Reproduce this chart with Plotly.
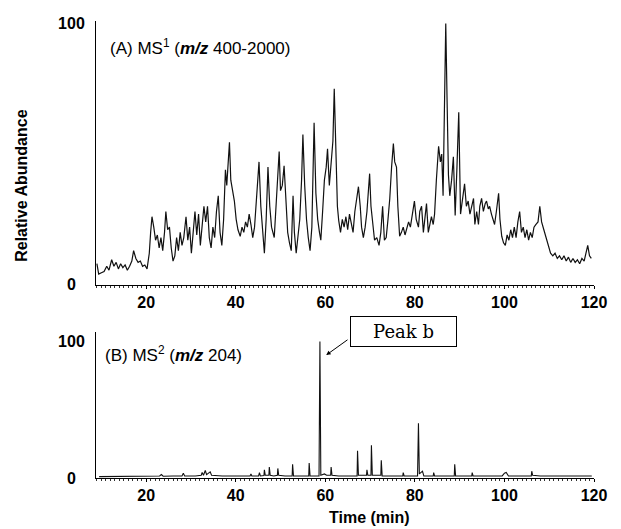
import plotly.graph_objects as go

# ---------------- data ----------------
ms1_time = [9.0, 9.4, 10.0, 10.6, 11.2, 11.7, 12.3, 12.8, 13.3, 13.8, 14.3, 14.8, 15.3, 15.8, 16.3, 16.8, 17.2, 17.7,
            18.2, 18.7, 19.2, 19.7, 20.2, 20.7, 21.0, 21.3, 21.7, 22.1, 22.5, 22.9, 23.3, 23.7, 24.1, 24.4, 24.8, 25.2,
            25.6, 26.0, 26.4, 26.8, 27.2, 27.6, 28.0, 28.4, 28.9, 29.3, 29.7, 30.1, 30.5, 30.9, 31.3, 31.7, 32.1, 32.5,
            32.9, 33.3, 33.7, 34.1, 34.5, 34.9, 35.3, 35.7, 36.1, 36.5, 36.9, 37.3, 37.7, 38.0, 38.3, 38.6, 38.9, 39.3,
            39.7, 40.1, 40.5, 41.0, 41.4, 41.8, 42.2, 42.6, 43.0, 43.4, 43.8, 44.2, 44.7, 45.2, 45.6, 46.0, 46.4, 46.8,
            47.2, 47.6, 48.0, 48.6, 49.0, 49.4, 49.7, 50.0, 50.4, 50.8, 51.2, 51.6, 52.0, 52.4, 52.8, 53.1, 53.5, 53.9,
            54.3, 54.7, 55.0, 55.4, 55.8, 56.2, 56.6, 57.0, 57.5, 57.9, 58.3, 58.7, 59.0, 59.4, 59.8, 60.2, 60.5, 60.9,
            61.3, 61.7, 62.0, 62.3, 62.7, 63.0, 63.4, 63.8, 64.2, 64.6, 65.0, 65.4, 65.8, 66.2, 66.6, 67.0, 67.4, 67.8,
            68.1, 68.5, 68.9, 69.3, 69.6, 69.9, 70.2, 70.6, 71.0, 71.5, 72.0, 72.4, 72.8, 73.2, 73.6, 74.0, 74.4, 74.8,
            75.2, 75.5, 75.9, 76.2, 76.6, 77.0, 77.4, 77.8, 78.2, 78.6, 79.0, 79.4, 79.9, 80.3, 80.8, 81.1, 81.5, 81.9,
            82.3, 82.6, 83.0, 83.4, 83.7, 84.1, 84.4, 84.8, 85.3, 85.7, 86.0, 86.3, 86.6, 86.9, 87.2, 87.5, 87.8, 88.2,
            88.6, 89.0, 89.4, 89.8, 90.2, 90.6, 91.1, 91.5, 91.9, 92.3, 92.7, 93.1, 93.4, 93.8, 94.2, 94.5, 94.9, 95.3,
            95.7, 96.0, 96.4, 96.7, 97.1, 97.5, 97.8, 98.2, 98.7, 99.0, 99.4, 99.8, 100.2, 100.6, 101.0, 101.4, 101.8,
            102.2, 102.6, 103.0, 103.4, 103.8, 104.2, 104.6, 105.0, 105.4, 105.8, 106.2, 106.6, 107.0, 107.5, 107.9,
            108.3, 108.8, 109.3, 109.8, 110.3, 110.8, 111.3, 111.8, 112.3, 112.8, 113.3, 113.8, 114.3, 114.8, 115.3,
            115.8, 116.3, 116.8, 117.3, 117.8, 118.2, 118.6, 119.0, 119.4]
ms1_abund = [8, 4, 4.5, 5, 7, 5.5, 9.5, 7, 8.5, 6, 8, 6.5, 7.5, 5.5, 7, 9, 13, 10,
             8.5, 9, 7, 7.5, 6, 12, 20, 26, 22, 17, 19, 14, 18, 13, 20, 28, 21, 22,
             14, 9, 11, 18, 13, 20, 15, 18, 26, 17, 22, 12, 20, 28, 19, 27, 15, 22,
             30, 24, 30, 18, 14, 22, 18, 28, 34, 20, 15, 25, 44, 38, 48, 54.5, 40, 36,
             32, 25, 21, 18.5, 22, 20, 24, 22, 27, 23, 18, 22, 33, 47, 30, 20, 12, 25,
             45, 30, 22, 18, 30, 40, 51, 36, 38, 45.5, 30, 20, 16, 13, 34, 20, 12, 18,
             25, 40, 57.5, 38, 25, 18, 13, 22, 62, 35, 25, 20, 17, 28, 40, 45, 52, 38,
             48, 55, 75, 50, 30, 24.5, 20, 25, 22, 26, 21, 27, 24, 20, 28, 33, 37.5, 30,
             22, 18, 22, 28, 35, 42.5, 30, 22, 17, 18, 15, 20, 30, 17, 18, 25, 33, 45,
             54, 47, 45, 30, 18.5, 20, 22, 19, 22, 24, 22, 26, 32, 25, 22, 28, 30, 20,
             26, 31, 20, 24, 26, 23, 27, 40, 53, 47, 50, 34, 60, 100, 70, 42, 34, 40,
             49, 26.5, 45, 66, 27, 32, 38.6, 30, 32, 27, 30, 33, 23, 28, 23, 30, 33, 28,
             31, 32, 29, 30, 27, 25, 23, 28, 35, 25, 18.5, 16, 15, 19, 17, 21, 18,
             22, 18, 24, 28, 20, 22, 18, 21, 17, 20, 18, 22, 23, 24, 30,
             24, 21, 18, 15, 12, 11, 12, 10, 11, 9.5, 11, 9, 10.5, 8.5, 10,
             8.5, 9.5, 8, 10, 9, 12, 15, 11, 10]

ms2_time = [9.5, 12, 15, 18, 21, 23, 23.4, 23.8, 26, 28, 28.3, 28.6, 31, 32.3, 32.5, 32.8, 33.2, 33.5, 34.3, 34.6,
            37, 40, 43.2, 43.4, 43.6, 45.1, 45.3, 45.5, 46.3, 46.4, 46.6, 47.4, 47.5, 47.7, 48.5, 49.3, 49.4, 49.6,
            51, 52.6, 52.7, 52.9, 54.5, 56.3, 56.4, 56.6, 58.6, 58.8, 59.0, 59.8, 60.3, 61.2, 61.3, 61.5, 63, 65,
            67.1, 67.2, 67.4, 69.2, 69.3, 69.5, 70.2, 70.3, 70.5, 72.4, 72.5, 72.7, 75, 77.3, 77.4, 77.6, 80.6, 80.8,
            81.0, 81.7, 82.0, 84.1, 84.2, 84.4, 86.5, 88.8, 88.9, 89.1, 92.7, 92.8, 93.0, 96, 99.5, 100.0, 100.4,
            100.9, 103, 106.0, 106.1, 106.3, 108, 112, 116, 119.5]
ms2_abund = [1, 1, 1.2, 1, 1.2, 1.5, 2.5, 1.3, 1.5, 1.5, 3.5, 1.5, 1.5, 2, 4, 2, 5.5, 2.5, 4.5, 2,
             1.5, 1.5, 1.5, 3, 1.5, 1.5, 4, 1.5, 1.8, 6, 2, 2, 8, 2, 1.5, 2, 7, 2,
             1.5, 1.5, 10, 1.5, 1.5, 1.5, 11, 1.5, 1.5, 100, 2, 3, 2, 2, 8, 2, 1.5, 1.5,
             1.5, 20, 2, 2, 6, 2, 2, 24, 2, 2, 13, 1.5, 1.5, 1.5, 4, 1.5, 1.5, 40,
             3, 5, 1.5, 1.5, 4, 1.5, 1.5, 1.5, 10, 1.5, 1.5, 4, 1.5, 1.5, 1.5, 3.5, 4,
             1.5, 1.5, 1.5, 5, 2, 1.5, 1.5, 1.5, 1.5]

x_ticks = [20, 40, 60, 80, 100, 120]
y_ticks = [0, 100]
y_ticktext = ["<b>0\u00a0\u00a0</b>", "<b>100</b>"]

# ---------------- figure ----------------
FONT = "Liberation Sans"
fig = go.Figure()
fig.add_trace(go.Scatter(x=ms1_time, y=ms1_abund, xaxis="x", yaxis="y", mode="lines",
                         line=dict(color="#111111", width=1.2), showlegend=False, hoverinfo="skip"))
fig.add_trace(go.Scatter(x=ms2_time, y=ms2_abund, xaxis="x2", yaxis="y2", mode="lines",
                         line=dict(color="#111111", width=1.1), showlegend=False, hoverinfo="skip"))

xax = dict(range=[8.8, 120], showline=True, linecolor="black", linewidth=1, showgrid=False,
           zeroline=False, ticks="outside", ticklen=3, tickcolor="black", tickwidth=1,
           tickvals=x_ticks, ticktext=["<b>%d</b>" % v for v in x_ticks],
           tickfont=dict(family=FONT, size=16, color="black"),
           minor=dict(dtick=1, tick0=0, ticks="outside", ticklen=2, tickcolor="#333", showgrid=False))
yax = dict(showline=True, linecolor="black", linewidth=1, showgrid=False, zeroline=False,
           ticks="", tickvals=y_ticks, ticktext=y_ticktext, ticklabelstandoff=7,
           tickfont=dict(family=FONT, size=16, color="black"))

# the page body has an 8px margin, so the figure is sized 8px smaller on each side
fig.update_layout(
    width=613, height=521,
    margin=dict(l=88, r=27, t=7, b=51),
    paper_bgcolor="white", plot_bgcolor="white",
    xaxis=dict(xax, anchor="y", domain=[0, 1]),
    yaxis=dict(yax, anchor="x", domain=[0.4233, 1], range=[0, 101]),
    xaxis2=dict(xax, anchor="y2", domain=[0, 1]),
    yaxis2=dict(yax, anchor="x2", domain=[0, 0.3197], range=[0, 107]),
    annotations=[
        dict(text="(A) MS<sup>1</sup> (<b><i>m/z</i></b> 400-2000)", xref="paper", yref="paper",
             x=0.024, y=0.943, xanchor="left", yanchor="middle", showarrow=False,
             font=dict(family=FONT, size=17, color="black")),
        dict(text="(B) MS<sup>2</sup> (<b><i>m/z</i></b> 204)", xref="paper", yref="paper",
             x=0.014, y=0.272, xanchor="left", yanchor="middle", showarrow=False,
             font=dict(family=FONT, size=17, color="black")),
        dict(text="<b>Relative Abundance</b>", xref="paper", yref="paper", x=-0.149, y=0.639,
             textangle=-90, showarrow=False, xanchor="center", yanchor="middle",
             font=dict(family=FONT, size=16, color="black")),
        dict(text="<b>Time (min)</b>", xref="paper", yref="paper", x=0.55, y=-0.086,
             showarrow=False, xanchor="center", yanchor="middle",
             font=dict(family=FONT, size=16, color="black")),
        dict(text="Peak b", xref="paper", yref="paper", x=0.6175, y=0.3207,
             xanchor="center", yanchor="middle", showarrow=False, width=103, height=27,
             bordercolor="black", borderwidth=1, borderpad=1, bgcolor="white",
             font=dict(family="DejaVu Serif", size=18, color="black")),
        dict(text="", x=60.2, y=90, xref="x2", yref="y2", ax=65.3, ay=102, axref="x2", ayref="y2",
             showarrow=True, arrowhead=2, arrowsize=0.9, arrowwidth=1, arrowcolor="black", standoff=0),
    ],
)

fig.write_html("out.html")
